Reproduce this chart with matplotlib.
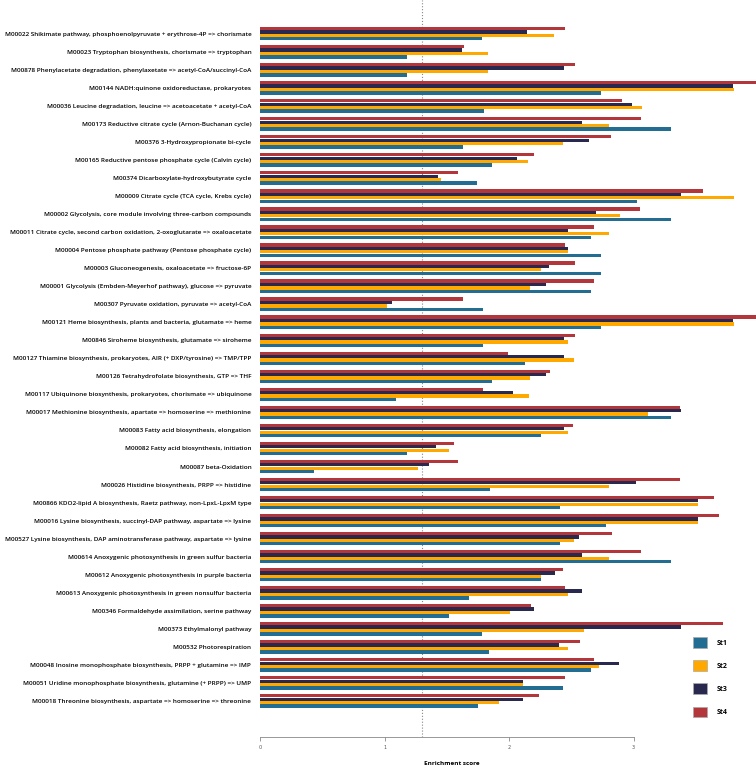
import numpy as np
import matplotlib
matplotlib.use("Agg")
import matplotlib.pyplot as plt
from matplotlib.patches import Patch

# modules, from top to bottom of the chart
modules = [
    "M00022 Shikimate pathway, phosphoenolpyruvate + erythrose-4P => chorismate",
    "M00023 Tryptophan biosynthesis, chorismate => tryptophan",
    "M00878 Phenylacetate degradation, phenylaxetate => acetyl-CoA/succinyl-CoA",
    "M00144 NADH:quinone oxidoreductase, prokaryotes",
    "M00036 Leucine degradation, leucine => acetoacetate + acetyl-CoA",
    "M00173 Reductive citrate cycle (Arnon-Buchanan cycle)",
    "M00376 3-Hydroxypropionate bi-cycle",
    "M00165 Reductive pentose phosphate cycle (Calvin cycle)",
    "M00374 Dicarboxylate-hydroxybutyrate cycle",
    "M00009 Citrate cycle (TCA cycle, Krebs cycle)",
    "M00002 Glycolysis, core module involving three-carbon compounds",
    "M00011 Citrate cycle, second carbon oxidation, 2-oxoglutarate => oxaloacetate",
    "M00004 Pentose phosphate pathway (Pentose phosphate cycle)",
    "M00003 Gluconeogenesis, oxaloacetate => fructose-6P",
    "M00001 Glycolysis (Embden-Meyerhof pathway), glucose => pyruvate",
    "M00307 Pyruvate oxidation, pyruvate => acetyl-CoA",
    "M00121 Heme biosynthesis, plants and bacteria, glutamate => heme",
    "M00846 Siroheme biosynthesis, glutamate => siroheme",
    "M00127 Thiamine biosynthesis, prokaryotes, AIR (+ DXP/tyrosine) => TMP/TPP",
    "M00126 Tetrahydrofolate biosynthesis, GTP => THF",
    "M00117 Ubiquinone biosynthesis, prokaryotes, chorismate => ubiquinone",
    "M00017 Methionine biosynthesis, apartate => homoserine => methionine",
    "M00083 Fatty acid biosynthesis, elongation",
    "M00082 Fatty acid biosynthesis, initiation",
    "M00087 beta-Oxidation",
    "M00026 Histidine biosynthesis, PRPP => histidine",
    "M00866 KDO2-lipid A biosynthesis, Raetz pathway, non-LpxL-LpxM type",
    "M00016 Lysine biosynthesis, succinyl-DAP pathway, aspartate => lysine",
    "M00527 Lysine biosynthesis, DAP aminotransferase pathway, aspartate => lysine",
    "M00614 Anoxygenic photosynthesis in green sulfur bacteria",
    "M00612 Anoxygenic photosynthesis in purple bacteria",
    "M00613 Anoxygenic photosynthesis in green nonsulfur bacteria",
    "M00346 Formaldehyde assimilation, serine pathway",
    "M00373 Ethylmalonyl pathway",
    "M00532 Photorespiration",
    "M00048 Inosine monophosphate biosynthesis, PRPP + glutamine => IMP",
    "M00051 Uridine monophosphate biosynthesis, glutamine (+ PRPP) => UMP",
    "M00018 Threonine biosynthesis, aspartate => homoserine => threonine",
]

st1 = [1.78, 1.18, 1.18, 2.74, 1.80, 3.30, 1.63, 1.86, 1.74, 3.03,
       3.30, 2.66, 2.74, 2.74, 2.66, 1.79, 2.74, 1.79, 2.13, 1.86,
       1.09, 3.30, 2.26, 1.18, 0.43, 1.85, 2.41, 2.78, 2.41, 3.30,
       2.26, 1.68, 1.52, 1.78, 1.84, 2.66, 2.43, 1.75]
st2 = [2.36, 1.83, 1.83, 3.81, 3.07, 2.80, 2.43, 2.15, 1.45, 3.81,
       2.89, 2.80, 2.47, 2.26, 2.17, 1.02, 3.81, 2.47, 2.52, 2.17,
       2.16, 3.12, 2.47, 1.52, 1.27, 2.80, 3.52, 3.52, 2.52, 2.80,
       2.26, 2.47, 2.01, 2.60, 2.47, 2.72, 2.11, 1.92]
st3 = [2.14, 1.62, 2.44, 3.80, 2.99, 2.59, 2.64, 2.06, 1.43, 3.38,
       2.70, 2.47, 2.47, 2.32, 2.30, 1.06, 3.80, 2.44, 2.44, 2.30,
       2.03, 3.38, 2.44, 1.41, 1.36, 3.02, 3.52, 3.52, 2.56, 2.59,
       2.37, 2.59, 2.20, 3.38, 2.40, 2.88, 2.11, 2.11]
st4 = [2.45, 1.64, 2.53, 4.05, 2.91, 3.06, 2.82, 2.20, 1.59, 3.56,
       3.05, 2.68, 2.45, 2.53, 2.68, 1.63, 4.05, 2.53, 1.99, 2.33,
       1.79, 3.37, 2.51, 1.56, 1.59, 3.37, 3.65, 3.69, 2.83, 3.06,
       2.43, 2.45, 2.18, 3.72, 2.57, 2.68, 2.45, 2.24]

series = ["St1", "St2", "St3", "St4"]
colors = ["#236c92", "#fea800", "#29284f", "#b3373a"]
threshold = 1.301  # -log10(0.05)

fig = plt.figure(figsize=(7.56, 7.66), dpi=100)
ax = fig.add_axes([260.3 / 756, 29 / 766, 495.7 / 756, 737 / 766])

n = len(modules)
y = np.arange(n)[::-1]  # first module at the top
h = 0.19
offsets = [-1.5 * h, -0.5 * h, 0.5 * h, 1.5 * h]  # St1 lowest, St4 on top
for vals, off, c in zip([st1, st2, st3, st4], offsets, colors):
    ax.barh(y + off, vals, height=h * 0.95, color=c, linewidth=0)

ax.axvline(threshold, color="#888888", linestyle=":", linewidth=0.8, zorder=0)

ax.set_xlim(0, 495.7 / 124.4)
ax.set_ylim(-2.0, n - 1 + 1.87)

ax.set_yticks(y)
ax.set_yticklabels(modules, fontsize=4.6, fontweight="semibold", family="Open Sans")
ax.tick_params(axis="y", length=0, pad=6.5)

ax.set_xticks([0, 1, 2, 3])
ax.set_xticklabels(["0", "1", "2", "3"], fontsize=3.5, color="#555555")
ax.tick_params(axis="x", length=3, width=0.6, color="#888888", pad=3)

for s in ["top", "right", "left"]:
    ax.spines[s].set_visible(False)
ax.spines["bottom"].set_bounds(0, 3)
ax.spines["bottom"].set_color("#888888")
ax.spines["bottom"].set_linewidth(0.6)

ax.set_xlabel("Enrichment score", fontsize=4.6, fontweight="bold", family="Open Sans")
ax.xaxis.set_label_coords((452 - 260.3) / 495.7, -0.032)

handles = [Patch(facecolor=c, edgecolor="#aaaaaa", linewidth=0.5) for c in colors]
leg = fig.legend(handles, series, loc="upper left",
                 bbox_to_anchor=(693 / 756, 1 - 637 / 766),
                 frameon=False, handlelength=2.0, handleheight=2.0,
                 labelspacing=1.8, handletextpad=1.4, borderpad=0, borderaxespad=0,
                 prop={"family": "Open Sans", "weight": "bold", "size": 5})

fig.savefig("out.png", dpi=100)
